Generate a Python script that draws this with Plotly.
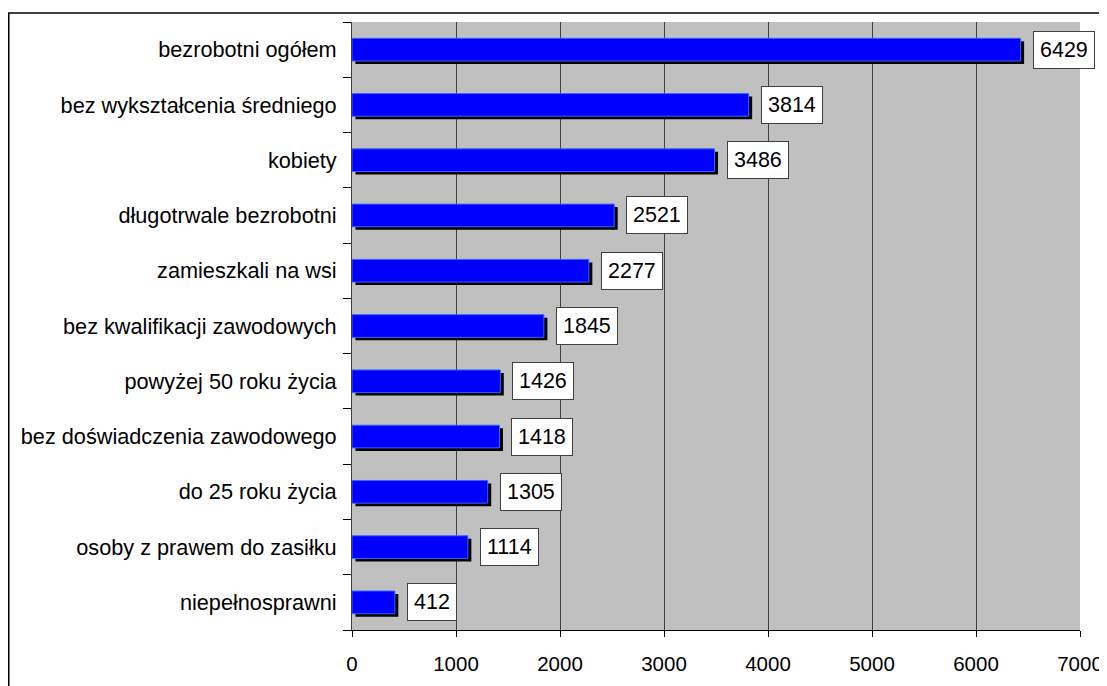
import plotly.graph_objects as go

# Data (bottom-to-top order)
categories = [
    "niepełnosprawni",
    "osoby z prawem do zasiłku",
    "do 25 roku życia",
    "bez doświadczenia zawodowego",
    "powyżej 50 roku życia",
    "bez kwalifikacji zawodowych",
    "zamieszkali na wsi",
    "długotrwale bezrobotni",
    "kobiety",
    "bez wykształcenia średniego",
    "bezrobotni ogółem",
]
values = [412, 1114, 1305, 1418, 1426, 1845, 2277, 2521, 3486, 3814, 6429]
x_ticks = [0, 1000, 2000, 3000, 4000, 5000, 6000, 7000]

W, H = 1107, 686
OFF = 8  # page body margin
ML, MT = 352 - OFF, 22 - OFF
PW, PH = 728, 608
MR = W - ML - PW
MB = H - MT - PH
XMAX = 7000
px_per_unit = PW / XMAX

FONT = "Liberation Sans, Arial, sans-serif"
BAR_W = 0.41
SHADOW_DX = 3.5 / px_per_unit       # shadow shift in data units (style)
SHADOW_DY = 3.0 / (PH / len(categories))  # in category units

fig = go.Figure()

# shadow
fig.add_trace(go.Bar(
    y=categories, x=values, base=[SHADOW_DX] * len(values),
    orientation="h", width=BAR_W, offset=-BAR_W / 2 - SHADOW_DY,
    marker=dict(color="black", line=dict(width=0)),
    hoverinfo="skip", showlegend=False,
))
# main bars
fig.add_trace(go.Bar(
    y=categories, x=values,
    orientation="h", width=BAR_W, offset=-BAR_W / 2,
    marker=dict(color="#0000FF", line=dict(color="#3366FF", width=1)),
    showlegend=False,
))

for c, v in zip(categories, values):
    fig.add_annotation(
        x=v, y=c, xref="x", yref="y", text=str(v), showarrow=False,
        xanchor="left", yanchor="middle", xshift=12,
        font=dict(family=FONT, size=21.5, color="black"),
        bgcolor="white", bordercolor="#404040", borderwidth=1, borderpad=6,
    )

# outer border of the chart object
fig.add_shape(
    type="rect", xref="paper", yref="paper",
    x0=(0.75 - ML) / PW, x1=1.2, y0=-0.3, y1=(PH + MT - 5) / PH,
    line=dict(color="black", width=1.5), fillcolor="rgba(0,0,0,0)", layer="below",
)

fig.update_layout(
    width=W, height=H,
    margin=dict(l=ML, r=MR, t=MT, b=MB, pad=0, autoexpand=False),
    paper_bgcolor="white",
    plot_bgcolor="#C0C0C0",
    barmode="overlay",
    font=dict(family=FONT, size=21.5, color="black"),
    xaxis=dict(
        range=[0, XMAX], tickvals=x_ticks, ticktext=[str(t) for t in x_ticks],
        showgrid=True, gridcolor="#404040", gridwidth=1, zeroline=False,
        showline=True, linecolor="black", linewidth=1,
        ticks="outside", ticklen=6, tickcolor="black", tickwidth=1,
        tickfont=dict(family=FONT, size=20.5, color="black"),
        ticklabelstandoff=9,
        fixedrange=True,
    ),
    yaxis=dict(
        type="category", categoryorder="array", categoryarray=categories,
        range=[-0.5, len(categories) - 0.5],
        showgrid=False, zeroline=False,
        showline=True, linecolor="#404040", linewidth=1,
        ticks="outside", ticklen=8, tickcolor="black", tickwidth=1,
        tickson="boundaries",
        tickfont=dict(family=FONT, size=21.7, color="black"),
        ticklabelstandoff=10,
        fixedrange=True,
    ),
)

fig.write_html("out.html")
